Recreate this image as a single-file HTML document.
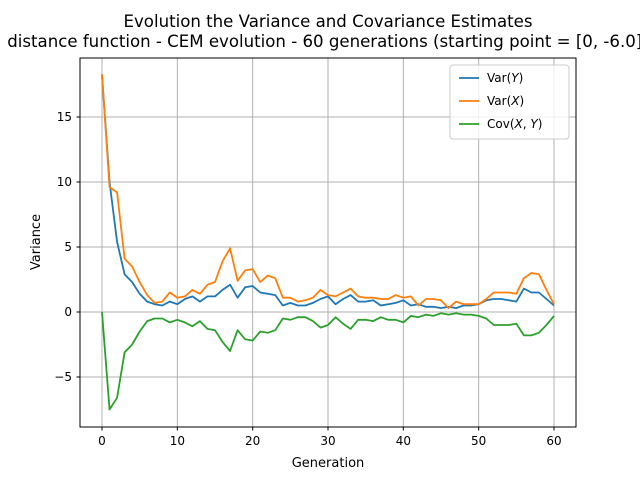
<!DOCTYPE html>
<html><head><meta charset="utf-8"><style>
body{margin:0;background:#fff;width:640px;height:480px;overflow:hidden}
text{font-family:"DejaVu Sans","Liberation Sans",sans-serif;fill:#000}
</style></head><body>
<svg id="chart" width="640" height="480" xmlns="http://www.w3.org/2000/svg">
<text x="328" y="27" font-size="16.6" text-anchor="middle">Evolution the Variance and Covariance Estimates</text>
<text x="328" y="47" font-size="16.6" text-anchor="middle">distance function - CEM evolution - 60 generations (starting point = [0, -6.0])</text>
<g id="grid"></g><g id="lines"></g>
<rect x="80" y="58" width="496" height="369" fill="none" stroke="#000" stroke-width="1"/>
<g id="ticks"></g>
<text x="328" y="467" font-size="13" text-anchor="middle">Generation</text>
<text transform="translate(40,242) rotate(-90)" font-size="13" text-anchor="middle">Variance</text>
<g>
<rect x="450" y="65" width="119" height="74" rx="3" fill="#fff" fill-opacity="0.8" stroke="#ccc"/>
<line x1="459" y1="78" x2="479" y2="78" stroke="#1f77b4" stroke-width="1.8"/>
<text x="487" y="82" font-size="12">Var(<tspan font-style="italic">Y</tspan>)</text>
<line x1="459" y1="101" x2="479" y2="101" stroke="#ff7f0e" stroke-width="1.8"/>
<text x="487" y="105" font-size="12">Var(<tspan font-style="italic">X</tspan>)</text>
<line x1="459" y1="124" x2="479" y2="124" stroke="#2ca02c" stroke-width="1.8"/>
<text x="487" y="128" font-size="12">Cov(<tspan font-style="italic">X</tspan>, <tspan font-style="italic">Y</tspan>)</text>
</g>
</svg>
<script>
const varY=[18.2,10.0,5.4,2.9,2.3,1.4,0.8,0.6,0.5,0.8,0.6,1.0,1.2,0.8,1.2,1.2,1.7,2.1,1.1,1.9,2.0,1.5,1.4,1.3,0.5,0.7,0.5,0.5,0.7,1.0,1.2,0.6,1.0,1.3,0.8,0.8,0.9,0.5,0.6,0.7,0.9,0.5,0.6,0.4,0.4,0.3,0.4,0.3,0.5,0.5,0.6,0.9,1.0,1.0,0.9,0.8,1.8,1.5,1.5,1.0,0.5];
const varX=[18.3,9.6,9.2,4.1,3.5,2.3,1.3,0.7,0.8,1.5,1.1,1.2,1.7,1.4,2.1,2.3,3.9,4.9,2.4,3.2,3.3,2.3,2.8,2.6,1.1,1.1,0.8,0.9,1.1,1.7,1.3,1.2,1.5,1.8,1.2,1.1,1.1,1.0,1.0,1.3,1.1,1.2,0.5,1.0,1.0,0.9,0.3,0.8,0.6,0.6,0.6,1.0,1.5,1.5,1.5,1.4,2.6,3.0,2.9,1.7,0.6];
const covXY=[0,-7.5,-6.6,-3.1,-2.5,-1.5,-0.7,-0.5,-0.5,-0.8,-0.6,-0.8,-1.1,-0.7,-1.3,-1.4,-2.3,-3.0,-1.4,-2.1,-2.2,-1.5,-1.6,-1.4,-0.5,-0.6,-0.4,-0.4,-0.7,-1.2,-1.0,-0.4,-0.9,-1.3,-0.6,-0.6,-0.7,-0.4,-0.6,-0.6,-0.8,-0.3,-0.4,-0.2,-0.3,-0.1,-0.2,-0.1,-0.2,-0.2,-0.3,-0.5,-1.0,-1.0,-1.0,-0.9,-1.8,-1.8,-1.6,-1.0,-0.3];
const xTicks=[0,10,20,30,40,50,60];
const yTicks=[-5,0,5,10,15];
const NS="http://www.w3.org/2000/svg";
function xs(v){return 102+v*(452/60);}
function ys(v){return 312-v*13;}
function mk(t,a,p){const e=document.createElementNS(NS,t);for(const k in a)e.setAttribute(k,a[k]);p.appendChild(e);return e;}
const grid=document.getElementById('grid'),ticks=document.getElementById('ticks'),lines=document.getElementById('lines');
xTicks.forEach(v=>{const x=xs(v);
 const g=mk('line',{x1:x,x2:x,y1:58,y2:427,stroke:'#b0b0b0','stroke-width':1},grid);
 
 
 mk('line',{x1:x,x2:x,y1:427,y2:430.5,stroke:'#000'},ticks);
 const t=mk('text',{x:x,y:445,'font-size':12,'text-anchor':'middle'},ticks);t.textContent=v;
 
 });
yTicks.forEach(v=>{const y=ys(v);
 const g=mk('line',{x1:80,x2:576,y1:y,y2:y,stroke:'#b0b0b0','stroke-width':1},grid);
 
 
 mk('line',{x1:76.5,x2:80,y1:y,y2:y,stroke:'#000'},ticks);
 const t=mk('text',{x:72,y:y+4,'font-size':12,'text-anchor':'end'},ticks);t.textContent=v<0?'\u2212'+(-v):v;
 
 });
[[varY,'#1f77b4','var-y-line'],[varX,'#ff7f0e','var-x-line'],[covXY,'#2ca02c','cov-xy-line']].forEach(([d,c,n])=>{
 const p=mk('polyline',{points:d.map((v,i)=>xs(i)+','+ys(v)).join(' '),fill:'none',stroke:c,'stroke-width':1.8,'stroke-linejoin':'round'},lines);
 
 });
</script>
</body></html>
